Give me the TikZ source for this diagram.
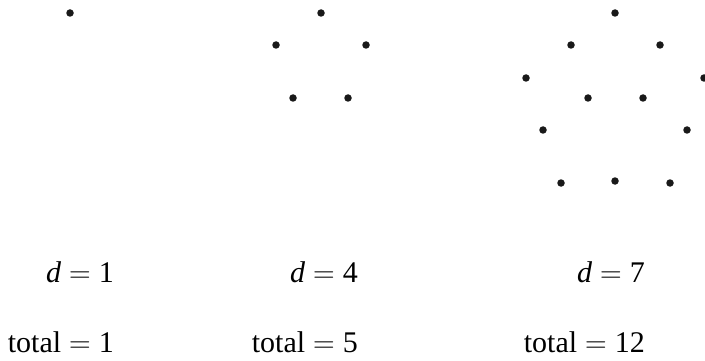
\documentclass[tikz,border=0pt]{standalone}
\usepackage{fontspec}
\setmainfont{Liberation Serif}
\newfontfamily\eqfont{Latin Modern Roman}
\newcommand{\equ}{{\eqfont=}}
\newcommand{\lblfont}{\fontsize{30}{34}\selectfont\spaceskip=8pt plus 1pt\relax}
\usetikzlibrary{positioning}

\begin{document}
\begin{tikzpicture}[
    x=1pt, y=-1pt,
    dot/.style={circle, fill=black!90, inner sep=0pt, minimum size=7.5pt},
    lbl/.style={font=\lblfont, inner sep=0pt, anchor=base east}
]
\useasboundingbox (0,0) rectangle (705,361);

\node[dot] (a1) at (70,13) {};

\node[dot] (b1) at (321,13) {};
\node[dot] (b2) at (276,45) {};
\node[dot] (b3) at (366,45) {};
\node[dot] (b4) at (293,98) {};
\node[dot] (b5) at (348,98) {};

\foreach \n/\x/\y in {1/615/13, 2/571/45, 3/660/45, 4/526/78, 5/704/78, 6/588/98,
    7/643/98, 8/543/130, 9/687/130, 10/561/183, 11/615/181, 12/670/183}
  \node[dot] (c\n) at (\x,\y) {};

\node[lbl] (dA) at (114,282) {\textit{d} \equ{} 1};
\node[lbl] (dB) at (358,282) {\textit{d} \equ{} 4};
\node[lbl] (dC) at (645,282) {\textit{d} \equ{} 7};

\node[lbl] (tA) at (114,352) {total \equ{} 1};
\node[lbl] (tB) at (358,352) {total \equ{} 5};
\node[lbl] (tC) at (645,352) {total \equ{} 12};
\end{tikzpicture}
\end{document}
